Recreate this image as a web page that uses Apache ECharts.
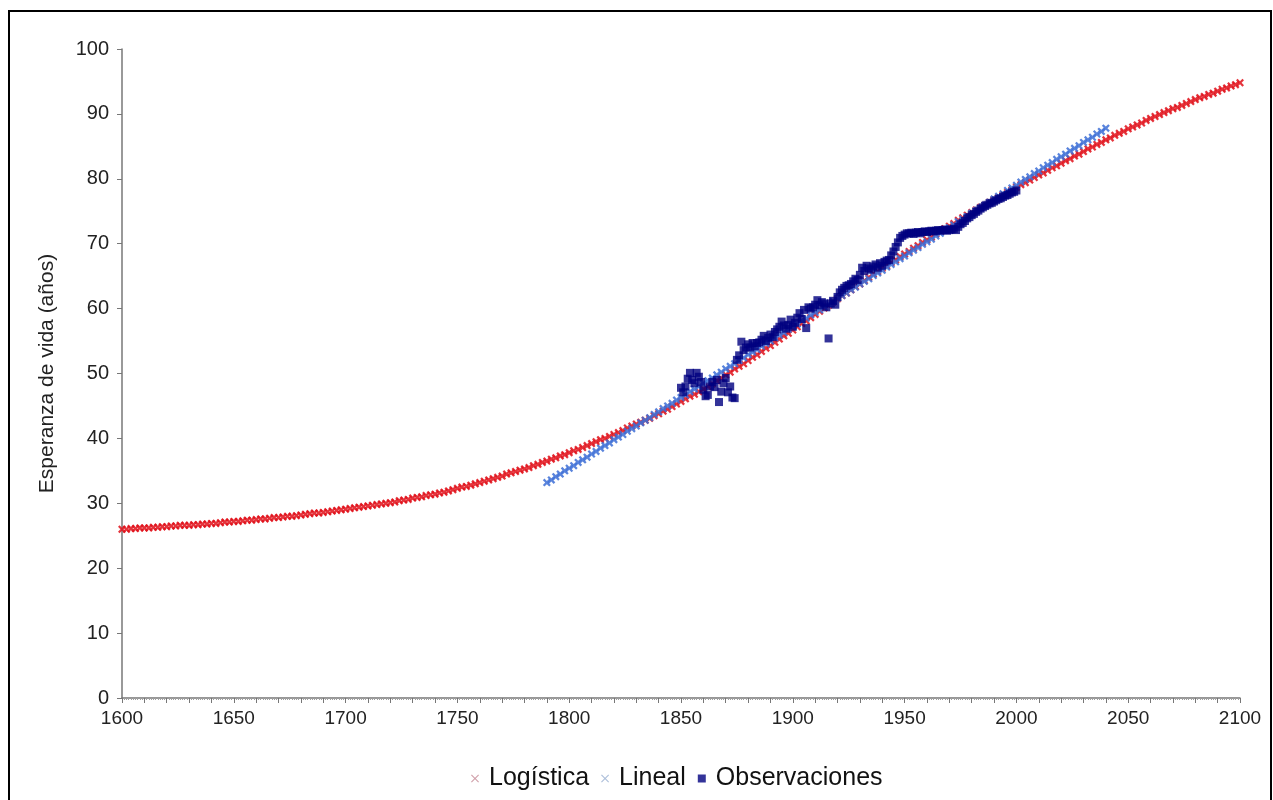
<!DOCTYPE html>
<html>
<head>
<meta charset="utf-8">
<script src="https://cdn.jsdelivr.net/npm/echarts@6/dist/echarts.min.js"></script>
<style>
  html, body { margin: 0; padding: 0; background: #fff; }
  #main { width: 1273px; height: 800px; }
</style>
</head>
<body>
<div id="main"></div>
<script>
// logistic fit, one value every 2 years from 1600
const logStart = 1600
const logStep = 2
const logistica = [
  26.0,26.0,26.1,26.1,26.2,26.2,26.2,26.3,26.3,26.4,
  26.4,26.5,26.5,26.6,26.6,26.6,26.7,26.7,26.8,26.8,
  26.9,26.9,27.0,27.1,27.1,27.2,27.2,27.3,27.4,27.4,
  27.5,27.6,27.6,27.7,27.8,27.8,27.9,28.0,28.0,28.1,
  28.2,28.3,28.4,28.5,28.5,28.6,28.7,28.8,28.9,29.0,
  29.1,29.2,29.3,29.4,29.5,29.6,29.7,29.8,29.9,30.0,
  30.1,30.2,30.4,30.5,30.6,30.8,30.9,31.0,31.2,31.3,
  31.4,31.6,31.7,31.9,32.1,32.3,32.5,32.6,32.8,33.0,
  33.2,33.4,33.6,33.8,34.0,34.2,34.5,34.7,34.9,35.1,
  35.3,35.5,35.8,36.0,36.3,36.5,36.8,37.0,37.3,37.5,
  37.8,38.1,38.3,38.6,38.9,39.2,39.5,39.8,40.0,40.3,
  40.6,40.9,41.2,41.6,41.9,42.2,42.5,42.8,43.1,43.5,
  43.8,44.2,44.5,44.9,45.3,45.7,46.1,46.5,46.8,47.2,
  47.6,48.0,48.4,48.9,49.3,49.8,50.2,50.7,51.1,51.5,
  52.0,52.5,52.9,53.4,53.9,54.3,54.8,55.3,55.8,56.2,
  56.7,57.2,57.7,58.1,58.6,59.1,59.6,60.1,60.5,61.0,
  61.5,62.0,62.4,62.9,63.4,63.8,64.3,64.8,65.3,65.7,
  66.2,66.6,67.1,67.5,68.0,68.4,68.8,69.3,69.7,70.2,
  70.6,71.0,71.5,71.9,72.3,72.7,73.1,73.6,74.0,74.4,
  74.8,75.2,75.6,76.0,76.4,76.8,77.1,77.5,77.9,78.3,
  78.7,79.1,79.4,79.8,80.2,80.6,80.9,81.3,81.7,82.0,
  82.4,82.8,83.1,83.5,83.8,84.2,84.6,84.9,85.3,85.6,
  86.0,86.3,86.7,87.0,87.3,87.7,88.0,88.3,88.6,89.0,
  89.3,89.6,89.9,90.2,90.5,90.8,91.0,91.3,91.6,91.9,
  92.2,92.5,92.7,93.0,93.2,93.5,93.8,94.0,94.3,94.5,
  94.8
]

// linear fit, one value every 2 years from 1790
const linStart = 1790
const linStep = 2
const lineal = [
  33.2,33.6,34.1,34.5,35.0, 35.4,35.8,36.3,36.7,37.1,
  37.6,38.0,38.5,38.9,39.3, 39.8,40.2,40.6,41.1,41.5,
  41.9,42.4,42.8,43.2,43.7, 44.1,44.6,45.0,45.4,45.9,
  46.3,46.7,47.2,47.6,48.0, 48.5,48.9,49.3,49.8,50.2,
  50.7,51.1,51.5,52.0,52.4, 52.9,53.3,53.7,54.2,54.6,
  55.0,55.5,55.9,56.3,56.8, 57.2,57.6,58.1,58.5,59.0,
  59.4,59.8,60.3,60.7,61.1, 61.6,62.0,62.4,62.9,63.3,
  63.8,64.2,64.6,65.1,65.5, 65.9,66.4,66.8,67.2,67.7,
  68.1,68.6,69.0,69.4,69.9, 70.3,70.7,71.2,71.6,72.1,
  72.5,72.9,73.4,73.8,74.2, 74.7,75.1,75.5,76.0,76.4,
  76.9,77.3,77.7,78.2,78.6, 79.0,79.5,79.9,80.3,80.8,
  81.2,81.7,82.1,82.5,83.0, 83.4,83.8,84.3,84.7,85.1,
  85.6,86.0,86.4,86.9,87.3, 87.8
]

// observed life expectancy, yearly from 1850
const obsStart = 1850
const observaciones = [
  47.8,47.1,48.0,49.2,50.1,49.0,48.5,50.1,49.5,48.7,
  47.5,46.5,46.7,48.0,48.7,47.9,49.0,45.6,47.2,48.5,
  49.3,47.1,48.0,46.3,46.2,52.1,52.8,54.9,53.6,54.0,
  54.5,54.0,54.7,54.2,54.7,54.8,55.2,55.8,55.0,55.5,
  56.0,55.6,56.4,56.8,57.2,58.0,57.4,56.9,57.5,58.3,
  57.2,57.8,58.6,59.3,58.4,59.8,57.0,60.2,60.0,60.2,
  60.6,61.3,60.5,61.0,60.8,60.2,55.4,60.8,61.2,60.6,
  61.8,62.5,62.9,63.2,63.5,63.6,63.8,64.2,64.6,64.4,
  65.2,66.3,65.8,66.6,66.2,66.0,66.5,66.8,66.3,67.0,
  66.6,67.2,67.4,67.5,68.2,68.8,69.5,70.2,70.9,71.2,
  71.4,71.6,71.6,71.7,71.5,71.7,71.8,71.6,71.8,71.9,
  71.8,71.9,72.0,71.9,72.0,72.1,72.0,72.1,72.2,72.0,
  72.1,72.2,72.3,72.1,72.6,73.0,73.2,73.5,73.9,74.1,
  74.4,74.6,74.9,75.1,75.4,75.6,75.8,76.0,76.2,76.3,
  76.5,76.7,76.9,77.0,77.2,77.4,77.5,77.7,77.9,78.0,
  78.2
]

const seriesNames = ['Logística', 'Lineal', 'Observaciones']
const yTitle = 'Esperanza de vida (años)'

const cross = 'path://M0,1L1,0L5,4L9,0L10,1L6,5L10,9L9,10L5,6L1,10L0,9L4,5Z'
const crossBold = 'path://M0,2L2,0L5,3L8,0L10,2L7,5L10,8L8,10L5,7L2,10L0,8L3,5Z'

function pairs (start, step, vals) {
  return vals.map((v, i) => [start + i * step, v])
}

let myChart = echarts.init(document.getElementById('main'))
let option = {
  animation: false,
  backgroundColor: '#ffffff',
  textStyle: { fontFamily: 'Liberation Sans, Arial, sans-serif' },
  graphic: [{
    type: 'rect',
    shape: { x: 9, y: 11, width: 1262, height: 800 },
    style: { fill: 'none', stroke: '#000', lineWidth: 2 },
  }],
  grid: { left: 122, right: 33, top: 49, bottom: 102 },
  legend: {
    bottom: 4,
    left: 466,
    itemWidth: 8,
    itemHeight: 8,
    itemGap: 12,
    textStyle: { fontSize: 25, color: '#111', padding: [0, 0, 0, 5] },
    data: [
      { name: seriesNames[0], icon: cross, itemStyle: { color: '#c9909c' } },
      { name: seriesNames[1], icon: cross, itemStyle: { color: '#9fb4d4' } },
      { name: seriesNames[2], icon: 'rect', itemStyle: { color: '#000080' } },
    ],
  },
  xAxis: {
    type: 'value',
    min: 1600,
    max: 2100,
    interval: 10,
    axisLine: { show: true, lineStyle: { color: '#777', width: 1.5 } },
    axisTick: { show: true, length: 5, lineStyle: { color: '#777' } },
    minorTick: { show: true, splitNumber: 10, length: 2, lineStyle: { color: '#a0a0a0' } },
    splitLine: { show: false },
    axisLabel: {
      fontSize: 19,
      color: '#222',
      margin: 11,
      formatter: function (v) { return v % 50 === 0 ? String(v) : '' },
    },
  },
  yAxis: {
    type: 'value',
    min: 0,
    max: 100,
    interval: 10,
    name: yTitle,
    nameLocation: 'middle',
    nameGap: 64,
    nameTextStyle: { fontSize: 21, color: '#222' },
    axisLine: { show: true, lineStyle: { color: '#777', width: 1.5 } },
    axisTick: { show: true, length: 5, lineStyle: { color: '#777' } },
    splitLine: { show: false },
    axisLabel: { fontSize: 20, color: '#222', margin: 13 },
  },
  series: [
    {
      name: seriesNames[0],
      type: 'scatter',
      symbol: crossBold,
      symbolSize: 8,
      itemStyle: { color: '#e0101a', opacity: 0.85 },
      data: pairs(logStart, logStep, logistica),
    },
    {
      name: seriesNames[1],
      type: 'scatter',
      symbol: crossBold,
      symbolSize: 8,
      itemStyle: { color: '#3d6fd6', opacity: 0.85 },
      data: pairs(linStart, linStep, lineal),
    },
    {
      name: seriesNames[2],
      type: 'scatter',
      symbol: 'rect',
      symbolSize: 8,
      itemStyle: { color: '#000080' },
      data: pairs(obsStart, 1, observaciones),
    },
  ],
}
myChart.setOption(option)
</script>
</body>
</html>
